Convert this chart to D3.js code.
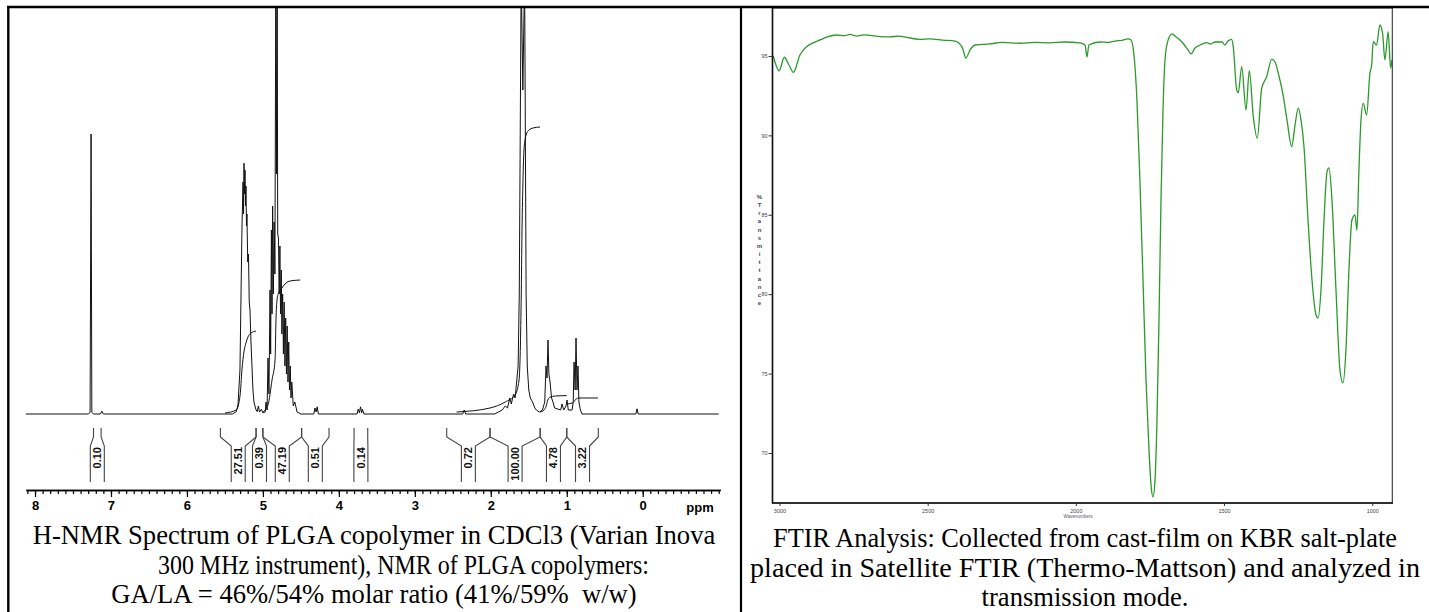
<!DOCTYPE html>
<html><head><meta charset="utf-8">
<script src="https://cdn.jsdelivr.net/npm/d3@7/dist/d3.min.js"></script>
<style>
html,body{margin:0;padding:0;background:#fff;}
svg{display:block;}
.cap{font-family:"Liberation Serif","Times New Roman",serif;font-size:26.6px;fill:#000;white-space:pre;}
</style></head>
<body>
<svg id="fig" width="1429" height="612"></svg>
<script>
// ---------------- DATA ----------------
// H-NMR spectrum: [ppm, relative intensity]
const nmrSpectrum = [
 [8.12,0],[7.30,0],[7.275,0.4],[7.262,70],[7.252,0.4],[7.23,0],[7.14,0],[7.12,0.7],[7.10,0],
 [5.40,0],[5.35,0.6],[5.328,2.3],[5.302,11],[5.289,28.5],[5.276,46],[5.262,58],[5.255,50],[5.249,62.7],
 [5.242,55],[5.236,61],[5.229,52],[5.223,57],[5.216,47],[5.21,50],[5.20,38],[5.19,40],[5.18,28],[5.17,26],
 [5.157,18],[5.144,12],[5.131,6],[5.118,3],[5.09,1],[5.075,0.6],[5.06,2],[5.045,0.5],[5.02,1.2],[5.0,0.3],
 [4.97,0.5],[4.959,3],[4.945,1],[4.933,14],[4.92,5],[4.906,31],[4.898,15],[4.888,46],[4.88,25],[4.872,52],
 [4.862,30],[4.852,48],[4.842,35],[4.830,110],[4.822,60],[4.812,110],[4.805,45],[4.795,44],[4.786,30],
 [4.776,42],[4.768,25],[4.758,36],[4.75,20],[4.74,30],[4.73,15],[4.72,28],[4.71,12],[4.70,24],[4.69,10],
 [4.68,22],[4.67,8],[4.66,18],[4.65,6],[4.64,12],[4.63,4],[4.62,8],[4.60,2],[4.58,3],[4.55,0.5],[4.50,0],
 [4.33,0],[4.315,1.5],[4.30,0.5],[4.285,1.8],[4.27,0],
 [3.76,0],[3.745,1.2],[3.73,0.3],[3.715,1.8],[3.70,0.3],[3.69,1.2],[3.67,0],
 [2.37,0],[2.35,1],[2.33,0],
 [1.95,0],[1.85,1],[1.81,2],[1.78,1.5],[1.75,4],[1.73,2.5],[1.70,5],[1.68,4],[1.66,8],[1.64,12],[1.625,30],
 [1.60,110],[1.578,81],[1.555,110],[1.535,30],[1.52,12],[1.50,6],[1.48,4],[1.45,3],[1.42,1.5],[1.40,1],[1.36,0.5],
 [1.32,1],[1.29,3],[1.273,12],[1.26,9],[1.247,18.5],[1.235,10],[1.22,8],[1.20,4],[1.181,3],[1.16,1.5],
 [1.08,1],[1.062,2.5],[1.04,1],[1.01,2],[0.996,3.5],[0.98,1],
 [0.93,1],[0.915,3],[0.904,13],[0.89,6],[0.878,19],[0.865,6],[0.852,12],[0.84,3],[0.82,1],[0.80,0],
 [0.09,0],[0.075,1.3],[0.06,0],[-1.0,0]
];
// integral regions [start ppm, end ppm] and their values
const nmrIntegralStart = [7.23,5.56,5.09,5.00,4.49,3.80,2.58,2.01,1.35,1.00];
const nmrIntegralEnd   = [7.13,5.09,5.00,4.49,4.13,3.62,2.01,1.35,1.00,0.585];
const nmrIntegralLabels = ["0.10","27.51","0.39","47.19","0.51","0.14","0.72","100.00","4.78","3.22"];
// integral traces [ppm, relative height]
const nmrIntegralCurves = [
 [[5.50,0.25],[5.35,1],[5.30,4.75],[5.276,11],[5.25,15.5],[5.223,17.75],[5.197,19.25],[5.157,20.25],[5.09,20.75]],
 [[5.00,0.5],[4.933,2.25],[4.88,8.5],[4.84,13.5],[4.828,23.5],[4.814,28.5],[4.79,30.5],[4.75,31.5],[4.696,32.75],[4.643,33.25],[4.51,33.5]],
 [[2.45,0.5],[2.01,1.5],[1.81,3],[1.68,4.75],[1.628,8.5],[1.60,28.5],[1.589,46],[1.576,58.5],[1.563,66],[1.536,69.75],[1.497,71],[1.444,71.5],[1.352,71.75]],
 [[1.35,0.5],[1.30,1],[1.27,2],[1.25,3.5],[1.22,4.2],[1.15,4.5],[1.00,4.6]],
 [[1.00,2.5],[0.92,2.8],[0.89,3.5],[0.87,3.8],[0.85,4],[0.59,4]]
];
const nmrTicks = [8,7,6,5,4,3,2,1,0];

// FTIR spectrum: [wavenumber cm-1, %T]
const ftirSpectrum = [
 [3021,95.0],[3001,94.07],[2984,94.92],[2968,94.43],[2953,93.97],[2931,95.06],[2908,95.59],[2887,95.82],
 [2863,96.01],[2841,96.18],[2807,96.32],[2780,96.28],[2762,96.36],[2740,96.25],[2715,96.33],[2695,96.3],
 [2660,96.22],[2627,96.2],[2600,96.25],[2560,96.13],[2530,96.05],[2492,96.08],[2450,96.0],[2408,95.94],
 [2384,95.57],[2371,94.87],[2357,95.38],[2340,95.69],[2290,95.76],[2250,95.85],[2188,95.8],[2140,95.86],
 [2087,95.82],[2040,95.88],[1986,95.82],[1969,95.69],[1962.5,94.94],[1956,95.69],[1919,95.88],[1890,95.85],
 [1868,95.94],[1845,95.98],[1824,96.07],[1814,96.0],[1804,95.06],[1794,92.23],[1784,87.19],[1773.5,80.89],
 [1763.4,74.6],[1753.3,70.19],[1746.5,67.99],[1739.8,67.23],[1733,68.3],[1726.3,72.08],[1719.6,78.38],
 [1712.8,85.93],[1706,91.6],[1699.3,94.75],[1689,96.0],[1675.7,96.39],[1662,96.2],[1642,95.88],[1621.6,95.38],
 [1611.5,95.13],[1598,95.5],[1581,95.69],[1558.6,95.84],[1545,95.75],[1530.6,95.88],[1507,95.88],[1497,95.69],
 [1487,95.94],[1474.4,96.05],[1469,95.59],[1457.4,92.86],[1452,92.69],[1440.5,94.33],[1426,91.6],[1414.9,94.07],
 [1401.4,91.18],[1387.9,89.82],[1373,92.97],[1356.2,93.7],[1339.3,94.79],[1328,94.62],[1317,93.91],[1300,92.44],
 [1287.7,90.97],[1271.8,89.29],[1260.6,90.65],[1249.6,91.71],[1240.5,90.97],[1230.3,89.27],[1216.8,84.67],
 [1203.3,80.89],[1189.8,78.69],[1183,78.5],[1173,80.26],[1162.8,84.67],[1152.7,87.7],[1146,87.95],[1136,85.93],
 [1122.4,80.26],[1109,75.23],[1099,74.41],[1088.8,76.49],[1078.7,81.52],[1068.6,84.67],[1058.5,84.99],
 [1051.7,84.04],[1045,87.82],[1038,90.97],[1030.5,92.02],[1019,91.28],[1007.9,93.91],[1002,94.43],[996.8,95.9],
 [985.4,95.69],[974.3,96.95],[965.2,96.43],[957.4,94.75],[946.3,96.53],[938.2,94.23],[933.8,94.75]
];
const ftirXTicks = [3000,2500,2000,1500,1000];
const ftirYTicks = [95,90,85,80,75,70];
const yAxisTitle = "%Transmittance";

const nmrCaption = ["H-NMR Spectrum of PLGA copolymer in CDCl3 (Varian Inova",
                    "300 MHz instrument), NMR of PLGA copolymers:",
                    "GA/LA = 46%/54% molar ratio (41%/59%  w/w)"];
const ftirCaption = ["FTIR Analysis: Collected from cast-film on KBR salt-plate",
                     "placed in Satellite FTIR (Thermo-Mattson) and analyzed in",
                     "transmission mode."];

// ---------------- DRAW ----------------
const svg = d3.select("#fig");
svg.append("rect").attr("width",1429).attr("height",612).attr("fill","#fff");

// ===== NMR panel =====
const xN = d3.scaleLinear().domain([8.12,-1.02]).range([25.9,720.2]);
const yN = d3.scaleLinear().domain([0,100]).range([414,14]);

svg.append("defs").append("clipPath").attr("id","nmrclip")
  .append("rect").attr("x",10).attr("y",8).attr("width",728).attr("height",480);

const nmrG = svg.append("g").attr("clip-path","url(#nmrclip)");
nmrG.append("path").datum(nmrSpectrum)
  .attr("d", d3.line().x(d=>xN(d[0])).y(d=>yN(d[1])))
  .attr("fill","none").attr("stroke","#111").attr("stroke-width",1).attr("stroke-linejoin","round");
nmrIntegralCurves.forEach(c=>{
  nmrG.append("path").datum(c)
   .attr("d", d3.line().x(d=>xN(d[0])).y(d=>yN(d[1])).curve(d3.curveMonotoneX))
   .attr("fill","none").attr("stroke","#111").attr("stroke-width",1);
});

// integral brackets
const brG = svg.append("g");
nmrIntegralLabels.forEach((lab,i)=>{
  const xs = xN(nmrIntegralStart[i]), xe = xN(nmrIntegralEnd[i]);
  const mid = (xs+xe)/2, bl = mid-7, br = mid+7;
  brG.append("path")
    .attr("d",`M${xs},428V437L${bl},446V482M${xe},428V437L${br},446V482`)
    .attr("fill","none").attr("stroke","#444").attr("stroke-width",1.1);
  brG.append("text").text(lab)
    .attr("transform",`translate(${mid},447) rotate(-90)`)
    .attr("dy","0.36em").attr("text-anchor","end")
    .attr("font-family","Liberation Sans, Arial, sans-serif").attr("font-weight","bold")
    .attr("font-size",11).attr("fill","#111");
});

// NMR axis
const minorTicks = d3.range(81,-11,-1).map(v=>v/10);
const axMinor = svg.append("g").attr("transform","translate(0,490)")
  .call(d3.axisBottom(xN).tickValues(minorTicks).tickSize(4).tickSizeOuter(0).tickFormat(""));
const axMajor = svg.append("g").attr("transform","translate(0,490)")
  .call(d3.axisBottom(xN).tickValues(nmrTicks).tickSize(7).tickSizeOuter(0).tickFormat(d3.format("d")));
[axMinor,axMajor].forEach(a=>{
  a.select(".domain").attr("stroke","#000").attr("stroke-width",1.4);
  a.selectAll(".tick line").attr("stroke","#000").attr("stroke-width",1.2);
});
axMajor.selectAll(".tick text").attr("y",11).attr("dy","0.71em")
  .attr("font-family","Liberation Sans, Arial, sans-serif").attr("font-weight","bold")
  .attr("font-size",13).attr("fill","#000");
svg.append("text").text("ppm").attr("x",700).attr("y",511.5).attr("text-anchor","middle")
  .attr("font-family","Liberation Sans, Arial, sans-serif").attr("font-weight","bold")
  .attr("font-size",13).attr("fill","#000");

// NMR caption
const nmrCapX = [374,403.5,374], nmrCapLen = [null,491,null];
nmrCaption.forEach((t,i)=>{
  const tx = svg.append("text").attr("class","cap").text(t)
   .attr("x",nmrCapX[i]).attr("y",544+i*29.5).attr("text-anchor","middle");
  if (nmrCapLen[i]) tx.attr("textLength",nmrCapLen[i]).attr("lengthAdjust","spacingAndGlyphs");
});

// ===== FTIR panel =====
const xF = d3.scaleLinear().domain([3023.6,932.4]).range([772.5,1392.3]);
const yF = d3.scaleLinear().domain([98.02,66.85]).range([8,503]);

svg.select("defs").append("clipPath").attr("id","ftirclip")
  .append("rect").attr("x",772.5).attr("y",8).attr("width",619.8).attr("height",495);

svg.append("g").attr("clip-path","url(#ftirclip)")
  .append("path").datum(ftirSpectrum)
  .attr("d", d3.line().x(d=>xF(d[0])).y(d=>yF(d[1])).curve(d3.curveMonotoneX))
  .attr("fill","none").attr("stroke","#2a9a2a").attr("stroke-width",1.3).attr("stroke-linejoin","round");

svg.append("rect").attr("x",772.5).attr("y",8).attr("width",619.8).attr("height",495)
  .attr("fill","none").attr("stroke","#333").attr("stroke-width",1.1);
svg.append("line").attr("x1",772.5).attr("x2",772.5).attr("y1",8).attr("y2",503.5).attr("stroke","#111").attr("stroke-width",1.6);
svg.append("line").attr("x1",772).attr("x2",1393).attr("y1",503).attr("y2",503).attr("stroke","#111").attr("stroke-width",1.6);

const axFx = svg.append("g").attr("transform","translate(0,503)")
  .call(d3.axisBottom(xF).tickValues(ftirXTicks).tickSize(3).tickSizeOuter(0).tickFormat(d3.format("d")));
axFx.select(".domain").remove();
axFx.selectAll(".tick line").attr("stroke","#333");
axFx.selectAll(".tick text").attr("y",6).attr("font-size",5.5)
  .attr("font-family","Liberation Sans, Arial, sans-serif").attr("fill","#444");

const axFy = svg.append("g").attr("transform","translate(772.5,0)")
  .call(d3.axisLeft(yF).tickValues(ftirYTicks).tickSize(4).tickSizeOuter(0).tickFormat(d3.format("d")));
axFy.select(".domain").remove();
axFy.selectAll(".tick line").attr("stroke","#333");
axFy.selectAll(".tick text").attr("x",-5).attr("font-size",5.5)
  .attr("font-family","Liberation Sans, Arial, sans-serif").attr("fill","#444");

svg.append("text").text("Wavenumbers").attr("x",1078).attr("y",518).attr("text-anchor","middle")
  .attr("font-size",4.5).attr("font-family","Liberation Sans, Arial, sans-serif").attr("fill","#556");
yAxisTitle.split("").forEach((ch,i)=>{
  svg.append("text").text(ch).attr("x",759.5).attr("y",199+i*8.15).attr("text-anchor","middle")
   .attr("font-size",6).attr("font-weight","bold").attr("font-family","Liberation Sans, Arial, sans-serif").attr("fill","#445");
});

const ftirCapLen = [624,670,null];
ftirCaption.forEach((t,i)=>{
  const tx = svg.append("text").attr("class","cap").text(t)
   .attr("x",1085).attr("y",547+i*29.5).attr("text-anchor","middle");
  if (ftirCapLen[i]) tx.attr("textLength",ftirCapLen[i]).attr("lengthAdjust","spacingAndGlyphs");
});

// ===== table borders =====
const bc = "#000";
svg.append("line").attr("x1",7).attr("x2",1429).attr("y1",7).attr("y2",7).attr("stroke",bc).attr("stroke-width",2.4);
svg.append("line").attr("x1",8.3).attr("x2",8.3).attr("y1",6).attr("y2",612).attr("stroke",bc).attr("stroke-width",2.4);
svg.append("line").attr("x1",741).attr("x2",741).attr("y1",6).attr("y2",612).attr("stroke",bc).attr("stroke-width",2.2);
</script>
</body></html>
